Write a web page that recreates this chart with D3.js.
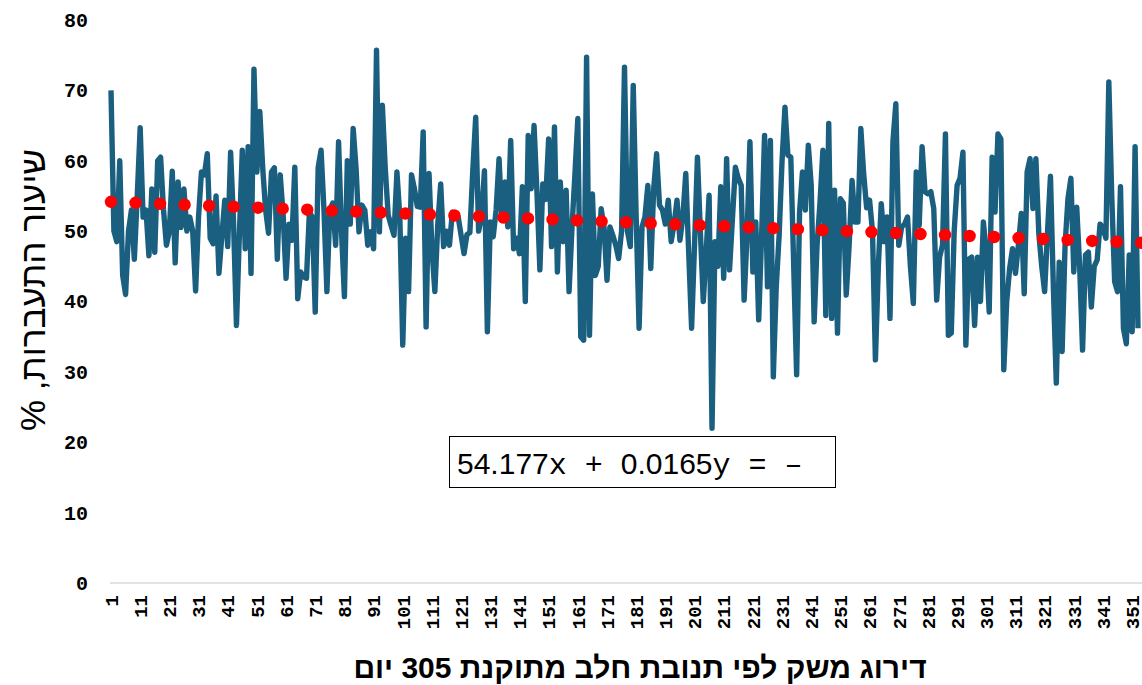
<!DOCTYPE html>
<html lang="he">
<head>
<meta charset="utf-8">
<title>שיעור התעברות</title>
<script src="https://cdn.jsdelivr.net/npm/d3@7"></script>
<style>
  body { margin: 0; background: #fff; }
  #chart-area { width: 1142px; height: 685px; overflow: hidden; }
</style>
</head>
<body>
<div id="chart-area"></div>
<script>
// conception rate (%) per farm, farms ranked by 305-day corrected milk yield
var rates = [
  70.0, 50, 48.5, 60, 43.7, 41, 50, 53, 46, 55,
  64.7, 52, 53, 46.5, 56, 47, 60, 60.5, 53, 48,
  50, 58.5, 45.5, 57, 50.5, 56, 50, 52, 50, 41.5,
  52, 58.4, 58, 61, 49, 48.2, 55, 44, 49.4, 54.4,
  47.8, 61.2, 51.3, 36.6, 49.5, 61.5, 47.5, 62, 44, 73,
  58.4, 67, 59, 53, 49.7, 58.4, 59, 46, 58, 52.3,
  43.3, 51, 48.7, 59.1, 40.4, 44.2, 43.5, 43.3, 52.7, 52,
  38.5, 59, 61.5, 53, 41.4, 53, 54, 48, 62.7, 50,
  40.7, 60, 51, 64.6, 58.9, 49.9, 53.7, 53, 48, 49.9,
  47.5, 75.7, 49.9, 67.9, 58.9, 52.3, 50.8, 49.4, 58.4, 52,
  33.8, 49, 41.4, 58, 56, 53.5, 53.4, 64.1, 36.4, 58.2,
  47.5, 41.4, 51, 56.7, 47.8, 50, 48, 52.7, 52, 52,
  49.4, 46.8, 49.5, 49.8, 58.6, 66.2, 50, 52, 58.6, 35.7,
  51.3, 49.2, 53, 60.3, 51.5, 57, 50.6, 62.9, 47.5, 49,
  46.8, 56.3, 40, 63.6, 56, 65, 55.5, 44.5, 56.7, 54.5,
  63.1, 47.8, 64.8, 44.2, 57, 48.5, 55.8, 41.4, 50.5, 58,
  66, 35, 34.5, 74.7, 35.2, 55.3, 43.7, 45, 53.2, 50.5,
  43, 50.6, 49.4, 48, 46.1, 50, 73.3, 50, 47.8, 70.7,
  52, 36.2, 50.6, 52, 56.5, 44.7, 56, 61, 53.7, 53,
  51, 54.4, 48.5, 51, 54.4, 48.7, 52, 58.2, 47, 36.2,
  48, 60.5, 50, 40, 47, 55.1, 22, 48.5, 45, 56.3,
  43.3, 60.3, 44.5, 51.8, 59.1, 57.5, 56.5, 40.2, 49.4, 62.7,
  44.2, 51.3, 37.4, 49.4, 63.6, 42.1, 62.9, 29.3, 42, 49.4,
  60, 67.6, 60.8, 60.5, 45, 29.6, 52.7, 58.4, 53, 62.2,
  56.5, 37.1, 48, 54, 61.5, 38, 65.3, 37.6, 55.8, 35.5,
  54.6, 54, 40.9, 48, 57.2, 51.3, 51.3, 64.6, 58, 53.3,
  54.4, 50, 31.7, 45, 53.9, 48.5, 52, 37.6, 62.7, 68.1,
  48, 50.6, 51, 52, 45, 39.7, 58.4, 50.8, 62, 55.6,
  55.3, 55.6, 53.2, 40.2, 46.3, 48, 63.8, 35.2, 35.5, 50,
  56.5, 57.5, 61.2, 33.8, 46, 46.3, 36.6, 46.3, 40, 51.3,
  47, 38.5, 60.5, 52.7, 63.8, 63.1, 30.3, 40, 44.7, 47.5,
  44, 48, 52.5, 41.1, 58.4, 60.3, 53.2, 60.3, 49.7, 45,
  41.4, 50, 57.8, 41.9, 28.4, 45.6, 32.9, 48, 54.6, 57.5,
  44.2, 53.4, 45, 33.1, 46.6, 47, 39.2, 45, 45.9, 51,
  50.5, 49, 71.2, 55, 42.8, 41.4, 56.3, 36.2, 34, 46.6,
  35.7, 62, 36.2
];

var yTicks = [0, 10, 20, 30, 40, 50, 60, 70, 80];
var xTicks = d3.range(1, rates.length + 1, 10);   // 1, 11, 21 ... 351

// linear trendline shown on the chart (y = -0.0165x + 54.177)
var trendSlope = -0.0165;
var trendIntercept = 54.177;

var yTitle = "שיעור התעברות, %";
var xTitle = "דירוג משק לפי תנובת חלב מתוקנת 305 יום";

var W = 1142, H = 685;
var plot = { left: 111, right: 1138, top: 20, bottom: 583 };

var svg = d3.select("#chart-area")
  .append("svg")
  .attr("width", W)
  .attr("height", H);

var x = d3.scaleLinear()
  .domain([1, rates.length])
  .range([plot.left, plot.right]);

var y = d3.scaleLinear()
  .domain([0, 80])
  .range([plot.bottom, plot.top]);

// y axis - labels only
var yAxis = d3.axisLeft(y)
  .tickValues(yTicks)
  .tickSize(0)
  .tickPadding(23);

svg.append("g")
  .attr("class", "axis y-axis")
  .attr("transform", "translate(" + plot.left + ",0)")
  .call(yAxis)
  .call(g => g.select(".domain").remove())
  .selectAll("text")
  .attr("font-family", "'Liberation Mono', 'Courier New', monospace")
  .attr("font-weight", "bold")
  .attr("font-size", 20)
  .attr("fill", "#000");

// x axis - light gray base line, rotated category labels
var xAxis = d3.axisBottom(x)
  .tickValues(xTicks)
  .tickSize(0)
  .tickFormat(d3.format("d"));

var xg = svg.append("g")
  .attr("class", "axis x-axis")
  .attr("transform", "translate(0," + plot.bottom + ")")
  .call(xAxis);

xg.select(".domain")
  .attr("d", "M" + (plot.left - 1) + ",0H" + W)
  .attr("stroke", "#d9d9d9")
  .attr("stroke-width", 1.3);

xg.selectAll("text")
  .attr("font-family", "'Liberation Mono', 'Courier New', monospace")
  .attr("font-weight", "bold")
  .attr("font-size", 19)
  .attr("fill", "#000")
  .attr("transform", "rotate(-90)")
  .attr("x", -12)
  .attr("y", 0)
  .attr("dy", "0.33em")
  .style("text-anchor", "end");

// series line
var line = d3.line()
  .x((d, i) => x(i + 1))
  .y(d => y(d));

svg.append("path")
  .datum(rates)
  .attr("fill", "none")
  .attr("stroke", "#1a5f80")
  .attr("stroke-width", 5.4)
  .attr("stroke-linejoin", "round")
  .attr("d", line);

// dotted trendline (round dots), runs on past the last visible farm
var trendEnds = [1, rates.length + 1.5];
svg.append("path")
  .datum(trendEnds)
  .attr("fill", "none")
  .attr("stroke", "#ff0000")
  .attr("stroke-width", 12.5)
  .attr("stroke-linecap", "round")
  .attr("stroke-dasharray", "0 24.55")
  .attr("d", d3.line()
    .x(d => x(d))
    .y(d => y(trendSlope * d + trendIntercept)));

// trendline equation label (as Excel rendered it in the RTL sheet)
var eq = svg.append("g").attr("class", "equation");
eq.append("rect")
  .attr("x", 449.5)
  .attr("y", 436.5)
  .attr("width", 386)
  .attr("height", 51)
  .attr("fill", "#fff")
  .attr("stroke", "#000")
  .attr("stroke-width", 1);

var eqText = eq.append("text")
  .attr("x", 457)
  .attr("y", 474)
  .attr("font-size", 30)
  .attr("fill", "#000")
  .attr("xml:space", "preserve");

var sans = "'Liberation Sans', Arial, sans-serif";
var mono = "'Liberation Mono', 'Courier New', monospace";
[
  [trendIntercept.toFixed(3), sans],
  ["x + ", mono],
  [String(-trendSlope), sans],
  ["y = –", mono]
].forEach(p => eqText.append("tspan").attr("font-family", p[1]).text(p[0]));

// axis titles
svg.append("text")
  .attr("transform", "translate(45,290) rotate(-90)")
  .attr("text-anchor", "middle")
  .attr("direction", "rtl")
  .attr("font-family", "'Liberation Sans', Arial, sans-serif")
  .attr("font-size", 35)
  .attr("fill", "#000")
  .text(yTitle);

svg.append("text")
  .attr("x", 640)
  .attr("y", 678)
  .attr("text-anchor", "middle")
  .attr("direction", "rtl")
  .attr("font-family", "'Liberation Sans', Arial, sans-serif")
  .attr("font-weight", "bold")
  .attr("font-size", 30)
  .attr("fill", "#000")
  .text(xTitle);
</script>
</body>
</html>
